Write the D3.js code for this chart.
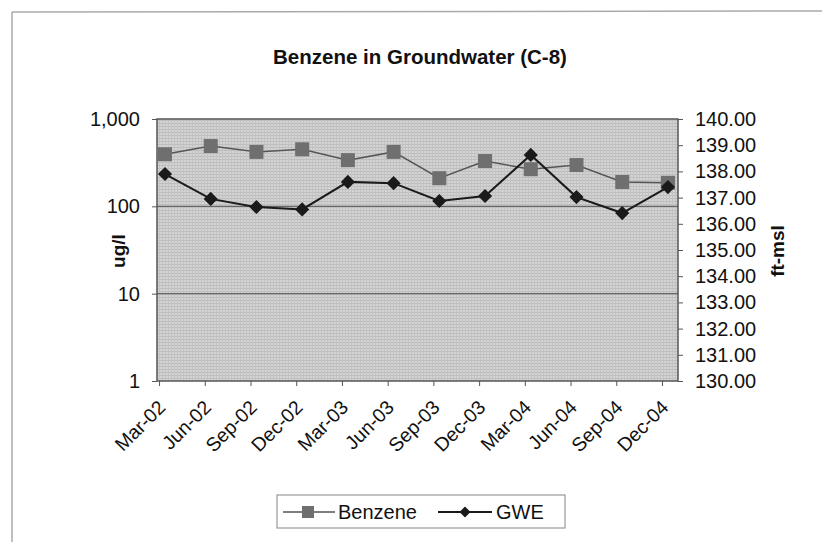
<!DOCTYPE html>
<html>
<head>
<meta charset="utf-8">
<script src="https://cdn.jsdelivr.net/npm/d3@7"></script>
<style>
  body { margin: 0; background: #fff; }
  text { font-family: "Liberation Sans", Arial, sans-serif; fill: #111; }
</style>
</head>
<body>
<div id="chart"></div>
<script>
// donnees du graphe
let months = ['Mar-02', 'Jun-02', 'Sep-02', 'Dec-02', 'Mar-03', 'Jun-03',
              'Sep-03', 'Dec-03', 'Mar-04', 'Jun-04', 'Sep-04', 'Dec-04'];
let benzene = [395, 490, 420, 450, 338, 420, 210, 330, 266, 297, 190, 186];
let gwe = [137.90, 136.95, 136.64, 136.55, 137.60, 137.55, 136.87, 137.06, 138.63, 137.02, 136.41, 137.40];
let leftTicks = [1, 10, 100, 1000];
let rightTicks = [130, 131, 132, 133, 134, 135, 136, 137, 138, 139, 140];

let width = 827, height = 542;
let plot = { left: 157, right: 678, top: 119, bottom: 381 };
let fontSize = 20;

let svg = d3.select('#chart').append('svg')
    .attr('width', width)
    .attr('height', height);

// fond texture
let defs = svg.append('defs');
let pat = defs.append('pattern')
    .attr('id', 'hatch')
    .attr('width', 3).attr('height', 3)
    .attr('patternUnits', 'userSpaceOnUse');
pat.append('rect').attr('width', 3).attr('height', 3).attr('fill', '#d4d4d4');
pat.append('rect').attr('width', 3).attr('height', 1).attr('fill', '#bcbcbc');
pat.append('rect').attr('width', 1).attr('height', 3).attr('fill', '#c3c3c3');

// cadre du graphique
svg.append('line').attr('x1', 12).attr('y1', 12).attr('x2', 822).attr('y2', 11)
    .attr('stroke', '#aaa').attr('stroke-width', 1.5);
svg.append('line').attr('x1', 12).attr('y1', 12).attr('x2', 12).attr('y2', 542)
    .attr('stroke', '#aaa').attr('stroke-width', 1.5);

// echelles
let x = d3.scaleLinear().domain([-0.175, 11.22]).range([plot.left, plot.right]);
let y = d3.scaleLog().domain([1, 1000]).range([plot.bottom, plot.top]);
let y2 = d3.scaleLinear().domain([130, 140]).range([plot.bottom, plot.top]);

svg.append('rect')
    .attr('x', plot.left).attr('y', plot.top)
    .attr('width', plot.right - plot.left).attr('height', plot.bottom - plot.top)
    .attr('fill', 'url(#hatch)');

// grille
svg.append('g').selectAll('line')
    .data([10, 100])
    .join('line')
    .attr('x1', plot.left).attr('x2', plot.right)
    .attr('y1', d => y(d)).attr('y2', d => y(d))
    .attr('stroke', '#666').attr('stroke-width', 1.2);

svg.append('rect')
    .attr('x', plot.left).attr('y', plot.top)
    .attr('width', plot.right - plot.left).attr('height', plot.bottom - plot.top)
    .attr('fill', 'none').attr('stroke', '#555').attr('stroke-width', 1.5);

// axe gauche
let axisLeft = d3.axisLeft(y)
    .tickValues(leftTicks)
    .tickFormat(d3.format(','))
    .tickSize(5)
    .tickPadding(12);
let gl = svg.append('g')
    .attr('transform', 'translate(' + plot.left + ',0)')
    .call(axisLeft);
gl.select('.domain').remove();
gl.selectAll('line').attr('stroke', '#555');
gl.selectAll('text').attr('font-size', fontSize).style('font-family', '"Liberation Sans", Arial, sans-serif').attr('fill', '#111');

// axe droit
let axisRight = d3.axisRight(y2)
    .tickValues(rightTicks)
    .tickFormat(d3.format('.2f'))
    .tickSize(5)
    .tickPadding(12);
let gr = svg.append('g')
    .attr('transform', 'translate(' + plot.right + ',0)')
    .call(axisRight);
gr.select('.domain').remove();
gr.selectAll('line').attr('stroke', '#555');
gr.selectAll('text').attr('font-size', fontSize).style('font-family', '"Liberation Sans", Arial, sans-serif').attr('fill', '#111');

// axe des x
let tickPos = d3.range(0, 12).map(i => i - 0.13);
let gx = svg.append('g')
    .attr('transform', 'translate(0,' + plot.bottom + ')')
    .call(d3.axisBottom(x).tickValues(tickPos).tickFormat('').tickSize(5));
gx.select('.domain').remove();
gx.selectAll('line').attr('stroke', '#555');

svg.append('g').selectAll('text')
    .data(months)
    .join('text')
    .attr('transform', (d, i) => 'translate(' + (x(i) - 8) + ',' + (plot.bottom + 18) + ') rotate(-45)')
    .attr('text-anchor', 'end')
    .attr('dy', '0.7em')
    .attr('font-size', 19.5)
    .text(d => d);

// titres
svg.append('text')
    .attr('x', 420).attr('y', 64)
    .attr('text-anchor', 'middle')
    .attr('font-size', 20.5).attr('font-weight', 'bold')
    .text('Benzene in Groundwater (C-8)');

svg.append('text')
    .attr('transform', 'translate(125,251) rotate(-90)')
    .attr('text-anchor', 'middle')
    .attr('font-size', 19).attr('font-weight', 'bold')
    .text('ug/l');

svg.append('text')
    .attr('transform', 'translate(784,251) rotate(-90)')
    .attr('text-anchor', 'middle')
    .attr('font-size', 19).attr('font-weight', 'bold')
    .text('ft-msl');

// series
let lineB = d3.line().x((d, i) => x(i)).y(d => y(d));
let lineG = d3.line().x((d, i) => x(i)).y(d => y2(d));

svg.append('path')
    .attr('d', lineB(benzene))
    .attr('fill', 'none').attr('stroke', '#555').attr('stroke-width', 1.5);

svg.append('g').selectAll('rect')
    .data(benzene)
    .join('rect')
    .attr('x', (d, i) => x(i) - 7).attr('y', d => y(d) - 7)
    .attr('width', 14).attr('height', 14)
    .attr('fill', '#6f6f6f');

svg.append('path')
    .attr('d', lineG(gwe))
    .attr('fill', 'none').attr('stroke', '#1a1a1a').attr('stroke-width', 2);

// losange = carre tourne de 45 degres
let diamond = d3.symbol().type(d3.symbolSquare).size(100);
svg.append('g').selectAll('path')
    .data(gwe)
    .join('path')
    .attr('transform', (d, i) => 'translate(' + x(i) + ',' + y2(d) + ') rotate(45)')
    .attr('d', diamond)
    .attr('fill', '#1a1a1a');

// legende
let leg = svg.append('g').attr('transform', 'translate(277,495)');
leg.append('rect')
    .attr('width', 288).attr('height', 33)
    .attr('fill', '#fff').attr('stroke', '#999').attr('stroke-width', 1.2);
leg.append('line').attr('x1', 6).attr('x2', 58).attr('y1', 17).attr('y2', 17)
    .attr('stroke', '#555').attr('stroke-width', 1.5);
leg.append('rect').attr('x', 25).attr('y', 11).attr('width', 12).attr('height', 12).attr('fill', '#6f6f6f');
leg.append('text').attr('x', 61).attr('y', 24).attr('font-size', 20).text('Benzene');
leg.append('line').attr('x1', 161).attr('x2', 215).attr('y1', 17).attr('y2', 17)
    .attr('stroke', '#1a1a1a').attr('stroke-width', 2);
leg.append('path').attr('transform', 'translate(188,17) rotate(45)').attr('d', d3.symbol().type(d3.symbolSquare).size(60)).attr('fill', '#1a1a1a');
leg.append('text').attr('x', 219).attr('y', 24).attr('font-size', 20).text('GWE');
</script>
</body>
</html>
